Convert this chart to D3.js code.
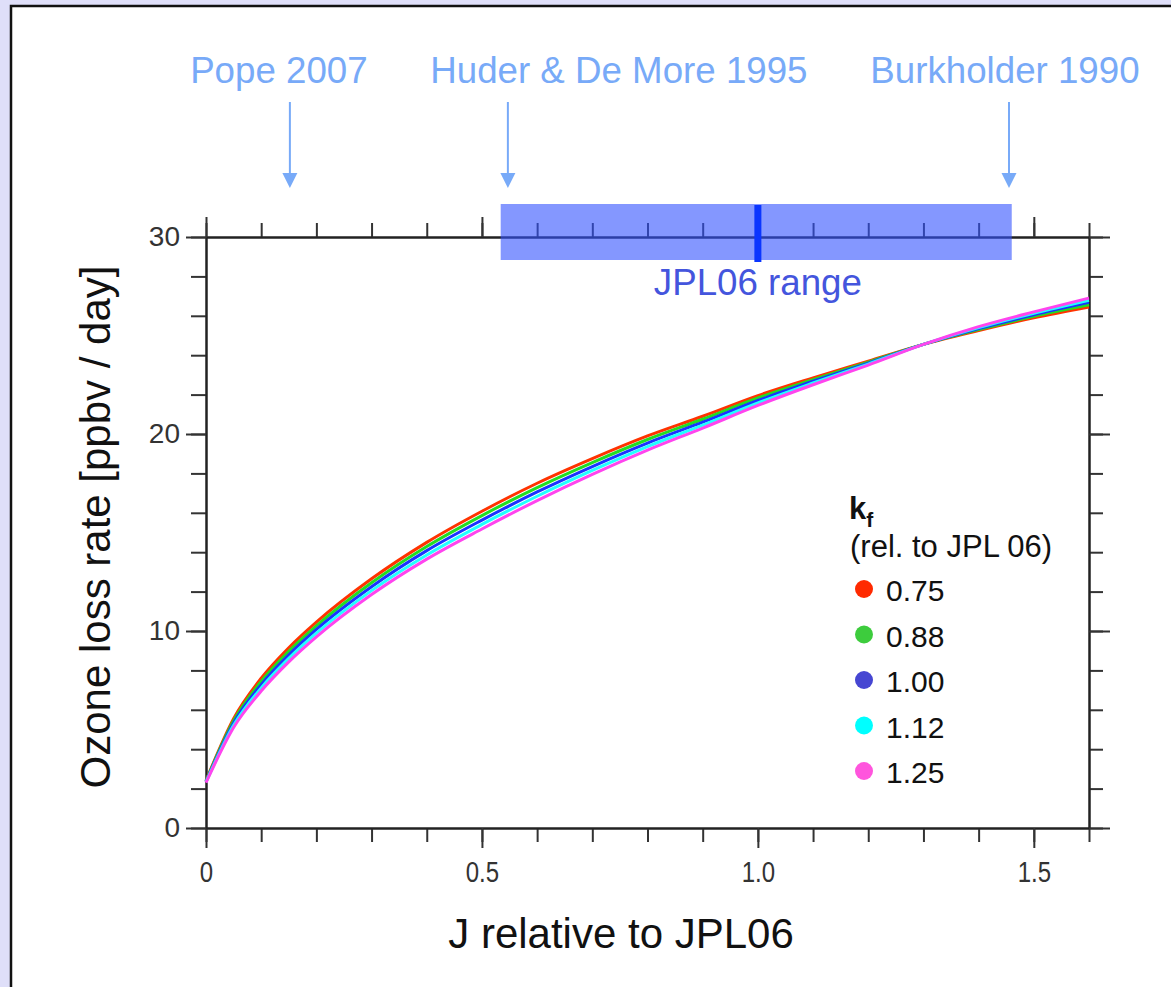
<!DOCTYPE html>
<html>
<head>
<meta charset="utf-8">
<script src="https://cdn.jsdelivr.net/npm/d3@7"></script>
<style>
  body { margin: 0; background: #dfdff9; overflow: hidden; }
  svg { display: block; font-family: "Liberation Sans", Arial, Helvetica, sans-serif; }
</style>
</head>
<body>
<div id="chart"></div>
<script>
// J relative to JPL06 (x values shared by every curve)
const jValues = [0, 0.05, 0.1, 0.15, 0.2, 0.3, 0.4, 0.5, 0.6, 0.7, 0.8, 0.9, 1.0, 1.1, 1.2, 1.3, 1.4, 1.5, 1.6];

// Ozone loss rate [ppbv / day] for each kf value
const loss075 = [2.4, 5.55, 7.6, 9.15, 10.45, 12.65, 14.5, 16.08, 17.5, 18.75, 19.9, 20.9, 21.95, 22.85, 23.7, 24.55, 25.25, 25.9, 26.45];
const loss088 = [2.38, 5.44, 7.44, 8.97, 10.26, 12.45, 14.29, 15.86, 17.28, 18.55, 19.72, 20.75, 21.83, 22.76, 23.65, 24.55, 25.3, 25.98, 26.56];
const loss100 = [2.35, 5.33, 7.28, 8.79, 10.08, 12.25, 14.08, 15.63, 17.06, 18.35, 19.54, 20.6, 21.7, 22.68, 23.6, 24.55, 25.35, 26.05, 26.68];
const loss112 = [2.33, 5.21, 7.11, 8.61, 9.89, 12.05, 13.86, 15.41, 16.84, 18.15, 19.36, 20.45, 21.58, 22.59, 23.55, 24.55, 25.4, 26.13, 26.79];
const loss125 = [2.3, 5.1, 6.95, 8.43, 9.7, 11.85, 13.65, 15.18, 16.62, 17.95, 19.18, 20.3, 21.45, 22.5, 23.5, 24.55, 25.45, 26.2, 26.9];

const kfLabels = ["0.75", "0.88", "1.00", "1.12", "1.25"];
const lossSeries = [loss075, loss088, loss100, loss112, loss125];
const lineColors = ["#ff3300", "#22dd22", "#1a33ff", "#22ffff", "#ff44ee"];
const dotColors = ["#ff2a00", "#3dcc3d", "#4646d2", "#00ffff", "#ff55dd"];

// tick values
const xMajorTicks = [0, 0.5, 1.0, 1.5];
const xMinorTicks = d3.range(0, 17).map(i => i / 10);
const yMajorTicks = [0, 10, 20, 30];
const yMinorTicks = d3.range(0, 31, 2);

// literature values of J (relative to JPL06)
const refLabels = ["Pope 2007", "Huder & De More 1995", "Burkholder 1990"];
const refJ = [0.152, 0.547, 1.455];
const jplLow = 0.534, jplHigh = 1.46, jplCentre = 1.0;

const width = 1171, height = 987;
const font = "'Liberation Sans', Arial, Helvetica, sans-serif";
const svg = d3.select("#chart").append("svg")
    .attr("width", width)
    .attr("height", height);

// white panel with black frame
svg.append("rect")
    .attr("x", 11).attr("y", 6)
    .attr("width", 1300).attr("height", 1100)
    .attr("fill", "#fff")
    .attr("stroke", "#111")
    .attr("stroke-width", 2.5);

const x = d3.scaleLinear().domain([0, 1.6]).range([206, 1089]);
const y = d3.scaleLinear().domain([0, 30]).range([828, 237]);

function styleAxis(g) {
    g.attr("font-family", font);
    g.select(".domain").attr("stroke", "#222").attr("stroke-width", 2);
    g.selectAll(".tick line").attr("stroke", "#333").attr("stroke-width", 2);
    g.selectAll(".tick text").attr("fill", "#333");
}

// bottom axis
svg.append("g").attr("transform", `translate(0,${y(0)})`)
    .call(d3.axisBottom(x).tickValues(xMinorTicks).tickSize(14).tickSizeOuter(0).tickFormat(""))
    .call(styleAxis);
svg.append("g").attr("transform", `translate(0,${y(0)})`)
    .call(d3.axisBottom(x).tickValues(xMajorTicks).tickSize(20).tickSizeOuter(0)
        .tickFormat(d => d === 0 ? "0" : d3.format(".1f")(d)))
    .call(styleAxis)
    .call(g => g.selectAll(".tick text")
        .attr("y", 54).attr("dy", 0)
        .attr("transform", "scale(0.8,1)")
        .style("font-size", "30px"));

// top axis
svg.append("g").attr("transform", `translate(0,${y(30)})`)
    .call(d3.axisTop(x).tickValues(xMinorTicks).tickSize(14).tickSizeOuter(0).tickFormat(""))
    .call(styleAxis);
svg.append("g").attr("transform", `translate(0,${y(30)})`)
    .call(d3.axisTop(x).tickValues(xMajorTicks).tickSize(20).tickSizeOuter(0).tickFormat(""))
    .call(styleAxis);

// left axis
svg.append("g").attr("transform", `translate(${x(0)},0)`)
    .call(d3.axisLeft(y).tickValues(yMinorTicks).tickSize(15).tickSizeOuter(0).tickFormat(""))
    .call(styleAxis);
svg.append("g").attr("transform", `translate(${x(0)},0)`)
    .call(d3.axisLeft(y).tickValues(yMajorTicks).tickSize(20).tickSizeOuter(0).tickPadding(6))
    .call(styleAxis)
    .call(g => g.selectAll(".tick text")
        .style("font-size", "28px"));

// right axis
svg.append("g").attr("transform", `translate(${x(1.6)},0)`)
    .call(d3.axisRight(y).tickValues(yMinorTicks).tickSize(14).tickSizeOuter(0).tickFormat(""))
    .call(styleAxis);
svg.append("g").attr("transform", `translate(${x(1.6)},0)`)
    .call(d3.axisRight(y).tickValues(yMajorTicks).tickSize(21).tickSizeOuter(0).tickFormat(""))
    .call(styleAxis);

// JPL06 range band across the top axis
svg.append("rect")
    .attr("x", x(jplLow))
    .attr("y", y(30) - 33)
    .attr("width", x(jplHigh) - x(jplLow))
    .attr("height", 56)
    .attr("fill", "rgb(50,82,255)")
    .attr("fill-opacity", 0.6);
svg.append("rect")
    .attr("x", x(jplCentre) - 3.5)
    .attr("y", y(30) - 32)
    .attr("width", 7)
    .attr("height", 57)
    .attr("fill", "#0a35ff");
svg.append("text")
    .attr("x", x(jplCentre))
    .attr("y", 295)
    .attr("text-anchor", "middle")
    .attr("fill", "#4455dd")
    .style("font-size", "36.7px")
    .text("JPL06 range");

// curves
const line = d3.line()
    .x((d, i) => x(jValues[i]))
    .y(d => y(d))
    .curve(d3.curveMonotoneX);

svg.append("g")
    .selectAll("path")
    .data(lossSeries)
    .enter().append("path")
    .attr("d", d => line(d))
    .attr("fill", "none")
    .attr("stroke", (d, i) => lineColors[i])
    .attr("stroke-width", 3)
    .attr("stroke-linejoin", "round");

// reference arrows and labels
const refColour = "#78aaf8";
const refTextOffset = [-11, 111, -4];
const refs = svg.append("g");
refJ.forEach((j, i) => {
    const ax = x(j);
    refs.append("line")
        .attr("x1", ax).attr("x2", ax)
        .attr("y1", 102).attr("y2", 174)
        .attr("stroke", refColour)
        .attr("stroke-width", 2);
    refs.append("path")
        .attr("d", `M${ax - 7.5},173L${ax + 7.5},173L${ax},188Z`)
        .attr("fill", refColour);
    refs.append("text")
        .attr("x", ax + refTextOffset[i])
        .attr("y", 83)
        .attr("text-anchor", "middle")
        .attr("fill", refColour)
        .style("font-size", "36.7px")
        .text(refLabels[i]);
});

// axis titles
svg.append("text")
    .attr("x", 621)
    .attr("y", 948)
    .attr("text-anchor", "middle")
    .attr("fill", "#111")
    .style("font-size", "42px")
    .text("J relative to JPL06");

svg.append("text")
    .attr("transform", "translate(110,527) rotate(-90)")
    .attr("text-anchor", "middle")
    .attr("fill", "#111")
    .style("font-size", "42px")
    .text("Ozone loss rate [ppbv / day]");

// legend
const legend = svg.append("g");
const kf = legend.append("text")
    .attr("x", 849).attr("y", 519)
    .attr("fill", "#111")
    .style("font-size", "31px")
    .style("font-weight", "bold");
kf.append("tspan").text("k");
kf.append("tspan").attr("dy", 8).style("font-size", "21px").text("f");

legend.append("text")
    .attr("x", 850).attr("y", 557)
    .attr("fill", "#111")
    .style("font-size", "31px")
    .text("(rel. to JPL 06)");

kfLabels.forEach((label, i) => {
    const ly = 589 + i * 45.5;
    legend.append("circle")
        .attr("cx", 864).attr("cy", ly)
        .attr("r", 9)
        .attr("fill", dotColors[i]);
    legend.append("text")
        .attr("x", 886).attr("y", ly + 12)
        .attr("fill", "#111")
        .style("font-size", "30px")
        .text(label);
});
</script>
</body>
</html>
